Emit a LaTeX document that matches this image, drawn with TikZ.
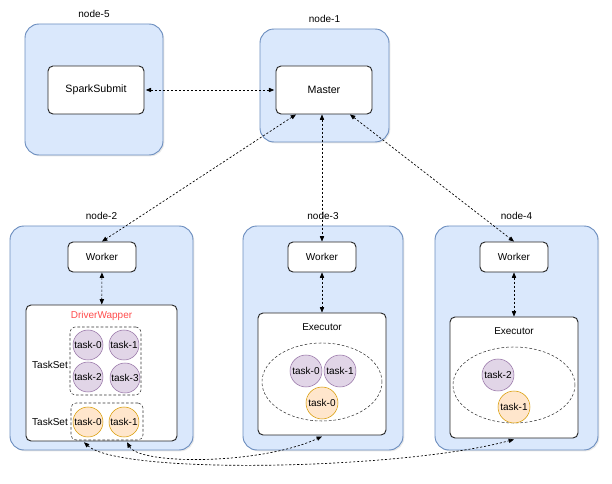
\documentclass[tikz,border=0pt]{standalone}
\usepackage{fontspec}
\setmainfont{Liberation Sans}
\usetikzlibrary{arrows.meta, positioning, shapes.geometric, shadows}
\definecolor{hostfill}{HTML}{DAE8FC}
\definecolor{hostdraw}{HTML}{6C8EBF}
\definecolor{taskfill}{HTML}{E1D5E7}
\definecolor{taskdraw}{HTML}{9673A6}
\definecolor{runfill}{HTML}{FFE6CC}
\definecolor{rundraw}{HTML}{D79B00}
\definecolor{drvred}{HTML}{FF4C4C}
\newlength\pxl
\setlength\pxl{0.75pt}

\tikzset{
  host/.style={draw=hostdraw, fill=hostfill, line width=0.7pt, rounded corners=14\pxl,
    inner sep=0pt, drop shadow={opacity=0.18, shadow xshift=1pt, shadow yshift=-1pt}},
  proc/.style={draw=black!85, fill=white, line width=0.7pt, rounded corners=5\pxl, inner sep=0pt},
  setbox/.style={draw=black!80, dash pattern=on 2pt off 1.5pt, rounded corners=5\pxl, inner sep=0pt},
  pool/.style={ellipse, draw=black!80, dash pattern=on 2pt off 1.5pt, inner sep=0pt},
  task/.style={circle, draw=taskdraw, fill=taskfill, inner sep=0pt, minimum size=30\pxl},
  taskrun/.style={circle, draw=rundraw, fill=runfill, inner sep=0pt, minimum size=30\pxl},
  link/.style={dash pattern=on 1.6pt off 1.4pt, line width=0.5pt, {Triangle[length=4pt,width=3.2pt]}-{Triangle[length=4pt,width=3.2pt]}},
}

\begin{document}
\begin{tikzpicture}[x=0.75pt, y=-0.75pt, font=\fontsize{7.5}{9}\selectfont]
  \useasboundingbox (0,0) rectangle (612,484);

  % hosts
  \node[host, minimum width=138\pxl, minimum height=131\pxl] (n5) at (94,89.5) {};
  \node[host, minimum width=129\pxl, minimum height=113\pxl] (n1) at (324.5,85.5) {};
  \node[host, minimum width=183\pxl, minimum height=224\pxl] (n2) at (101.5,338) {};
  \node[host, minimum width=160\pxl, minimum height=224\pxl] (n3) at (323,338) {};
  \node[host, minimum width=163\pxl, minimum height=224\pxl] (n4) at (516.5,338) {};
  \node[above=1\pxl of n5] (n5lbl) {node-5};
  \node[above=1\pxl of n1] (n1lbl) {node-1};
  \node[above=1\pxl of n2] (n2lbl) {node-2};
  \node[above=1\pxl of n3] (n3lbl) {node-3};
  \node[above=1\pxl of n4] (n4lbl) {node-4};

  % processes
  \node[proc, minimum width=96\pxl, minimum height=48\pxl, font=\fontsize{8}{9.6}\selectfont] (spark) at (96,90) {SparkSubmit};
  \node[proc, minimum width=96\pxl, minimum height=48\pxl, font=\fontsize{8}{9.6}\selectfont] (master) at (324,90) {Master};
  \node[proc, minimum width=68\pxl, minimum height=30\pxl] (worker2) at (102,257) {Worker};
  \node[proc, minimum width=68\pxl, minimum height=30\pxl] (worker3) at (322,257) {Worker};
  \node[proc, minimum width=68\pxl, minimum height=30\pxl] (worker4) at (514,257) {Worker};
  \node[proc, minimum width=151\pxl, minimum height=136\pxl] (driver) at (101.5,373) {};
  \node[proc, minimum width=128\pxl, minimum height=122\pxl] (exec3) at (322,374) {};
  \node[proc, minimum width=128\pxl, minimum height=121\pxl] (exec4) at (514,377.5) {};
  \node[below=2\pxl of driver.north, text=drvred] (drvlbl) {DriverWapper};
  \node[below=6\pxl of exec3.north] (ex3lbl) {Executor};
  \node[below=6\pxl of exec4.north] (ex4lbl) {Executor};

  % node-2 task sets
  \node[setbox, minimum width=71\pxl, minimum height=68\pxl] (ts1) at (105.5,361) {};
  \node[setbox, minimum width=72\pxl, minimum height=37\pxl] (ts2) at (107,421.5) {};
  \node (ts1lbl) at (50,365) {TaskSet};
  \node (ts2lbl) at (50,422) {TaskSet};
  \node[task] (t20) at (88,345) {task-0};
  \node[task] (t21) at (124,345) {task-1};
  \node[task] (t22) at (88,377) {task-2};
  \node[task] (t23) at (125,378) {task-3};
  \node[taskrun] (r20) at (88,422) {task-0};
  \node[taskrun] (r21) at (124,422) {task-1};

  % node-3 executor
  \node[pool, minimum width=120\pxl, minimum height=78\pxl] (pool3) at (322,382) {};
  \node[task, minimum size=32\pxl] (t30) at (306,371) {task-0};
  \node[task, minimum size=32\pxl] (t31) at (340,371) {task-1};
  \node[taskrun, minimum size=32\pxl] (r30) at (322,403) {task-0};

  % node-4 executor
  \node[pool, minimum width=122\pxl, minimum height=76\pxl] (pool4) at (514,385) {};
  \node[task, minimum size=32\pxl] (t42) at (498,375) {task-2};
  \node[taskrun, minimum size=32\pxl] (r41) at (514,407) {task-1};

  % links
  \draw[link, shorten <=1pt, shorten >=1pt] (spark) -- (master);
  \draw[link] ([xshift=-28\pxl]master.south) -- (worker2.north);
  \draw[link] (worker3.north |- master.south) -- (worker3.north);
  \draw[link] ([xshift=26\pxl]master.south) -- (worker4.north);
  \draw[link] (worker2) -- (driver);
  \draw[link] (worker3) -- (exec3);
  \draw[link] (worker4) -- (exec4);
  \draw[link] ([xshift=-23\pxl, yshift=-2\pxl]ts2.south) .. controls (120,475) and (400,470) .. ([yshift=-1\pxl]exec4.south);
  \draw[link] ([xshift=20\pxl, yshift=-2\pxl]ts2.south) .. controls (140,465) and (260,465) .. ([yshift=-1\pxl]exec3.south);
\end{tikzpicture}
\end{document}
